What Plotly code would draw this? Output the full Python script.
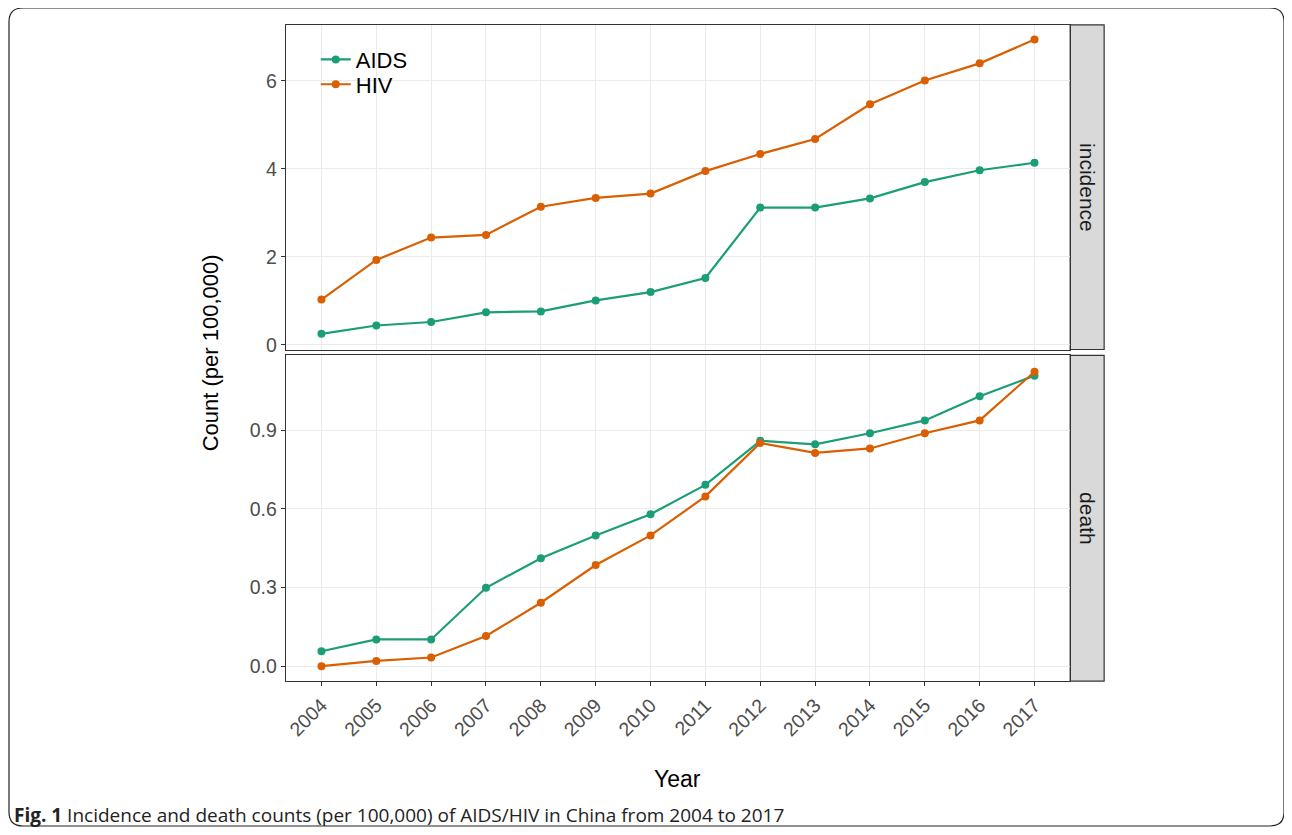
import plotly.graph_objects as go

years = list(range(2004, 2018))
incidence_aids = [0.25, 0.44, 0.52, 0.74, 0.76, 1.01, 1.20, 1.52, 3.12, 3.12, 3.33, 3.70, 3.97, 4.14]
incidence_hiv = [1.03, 1.93, 2.44, 2.50, 3.14, 3.34, 3.44, 3.95, 4.34, 4.68, 5.47, 6.01, 6.40, 6.94]
death_aids = [0.057, 0.102, 0.102, 0.299, 0.412, 0.499, 0.580, 0.692, 0.860, 0.847, 0.889, 0.938, 1.030, 1.109]
death_hiv = [0.000, 0.020, 0.033, 0.115, 0.242, 0.386, 0.499, 0.648, 0.852, 0.814, 0.831, 0.889, 0.938, 1.124]
series_names = ["AIDS", "HIV"]
colors = {"AIDS": "#1b9e77", "HIV": "#d95f02"}
panels = ["incidence", "death"]
caption_bold = "Fig. 1"
caption_text = "Incidence and death counts (per 100,000) of AIDS/HIV in China from 2004 to 2017"

# page body has an 8px margin; the figure is sized to fit in the window
OFF = 8
W, H = 1292 - OFF, 835 - OFF
def px_x(p): return (p - OFF) / W
def px_y(p): return 1 - (p - OFF) / H

fig = go.Figure()

data = {
    ("incidence", "AIDS"): incidence_aids,
    ("incidence", "HIV"): incidence_hiv,
    ("death", "AIDS"): death_aids,
    ("death", "HIV"): death_hiv,
}
legend_ids = {"AIDS": "legend", "HIV": "legend2"}

for pi, panel in enumerate(panels):
    ya = "y" if pi == 0 else "y2"
    for s in series_names:
        fig.add_trace(go.Scatter(
            x=years, y=data[(panel, s)], mode="lines+markers", name=s,
            xaxis="x" if pi == 0 else "x2", yaxis=ya,
            line=dict(color=colors[s], width=2.2),
            marker=dict(color=colors[s], size=8),
            showlegend=(pi == 0), legend=legend_ids[s],
        ))

font_family = "Liberation Sans, Arial, sans-serif"
grid = "#ebebeb"
border = "#333333"
tickfont = dict(family=font_family, size=19.5, color="#4d4d4d")

xdom = [px_x(285), px_x(1070)]
common_x = dict(range=[2003.35, 2017.65], domain=xdom, showgrid=True, gridcolor=grid,
                gridwidth=1, zeroline=False, showline=True, linecolor=border, linewidth=1.2,
                mirror=True, tickvals=years, ticks="outside", tickcolor=border)
common_y = dict(showgrid=True, gridcolor=grid, gridwidth=1, zeroline=False, showline=True,
                linecolor=border, linewidth=1.2, mirror=True, ticks="outside", ticklen=4,
                tickcolor=border, tickfont=tickfont)

legend_common = dict(xanchor="left", yanchor="middle",
                     font=dict(family=font_family, size=22, color="black"),
                     bgcolor="rgba(0,0,0,0)", itemwidth=30)

fig.update_layout(
    width=W, height=H,
    margin=dict(l=0, r=0, t=0, b=0),
    paper_bgcolor="white", plot_bgcolor="white",
    xaxis=dict(**common_x, anchor="y", showticklabels=False, ticklen=0),
    xaxis2=dict(**common_x, anchor="y2", matches="x", ticklen=4,
                tickangle=-45, tickfont=tickfont),
    yaxis=dict(**common_y, domain=[px_y(352), px_y(25)], range=[-0.106, 7.275],
               tickvals=[0, 2, 4, 6], anchor="x"),
    yaxis2=dict(**common_y, domain=[px_y(686), px_y(358)], range=[-0.057, 1.186],
                tickvals=[0, 0.3, 0.6, 0.9], ticktext=["0.0", "0.3", "0.6", "0.9"], anchor="x2"),
    legend=dict(x=px_x(315), y=px_y(60), **legend_common),
    legend2=dict(x=px_x(315), y=px_y(85), **legend_common),
    showlegend=True,
)

# strips
strips = [(25, 352, panels[0]), (358, 686, panels[1])]
for top, bot, label in strips:
    fig.add_shape(type="rect", xref="paper", yref="paper",
                  x0=px_x(1070), x1=px_x(1104), y0=px_y(bot), y1=px_y(top),
                  fillcolor="#d9d9d9", line=dict(color=border, width=1.2), layer="below")
    fig.add_annotation(xref="paper", yref="paper", x=px_x(1088), y=px_y((top + bot) / 2),
                       xanchor="center", yanchor="middle",
                       text=label, textangle=90, showarrow=False,
                       font=dict(family=font_family, size=21, color="#1a1a1a"))

# axis titles
fig.add_annotation(xref="paper", yref="paper", x=px_x(210), y=px_y(355),
                   xanchor="center", yanchor="middle",
                   text="Count (per 100,000)", textangle=-90, showarrow=False,
                   font=dict(family=font_family, size=22, color="black"))
fig.add_annotation(xref="paper", yref="paper", x=px_x(677), y=px_y(785),
                   xanchor="center", yanchor="middle",
                   text="Year", showarrow=False,
                   font=dict(family=font_family, size=23, color="black"))

# caption
fig.add_annotation(xref="paper", yref="paper", x=px_x(11), y=px_y(821),
                   xanchor="left", yanchor="middle",
                   text=f"<b>{caption_bold}</b> {caption_text}", showarrow=False,
                   font=dict(family="Open Sans, sans-serif", size=19, color="#222"))

# outer frame with rounded corners
r = 14
x0, y0, x1, y1 = 8, 8, 1284, 832
path = (f"M {px_x(x0 + r)},{px_y(y0)} L {px_x(x1 - r)},{px_y(y0)} "
        f"Q {px_x(x1)},{px_y(y0)} {px_x(x1)},{px_y(y0 + r)} "
        f"L {px_x(x1)},{px_y(y1 - r)} Q {px_x(x1)},{px_y(y1)} {px_x(x1 - r)},{px_y(y1)} "
        f"L {px_x(x0 + r)},{px_y(y1)} Q {px_x(x0)},{px_y(y1)} {px_x(x0)},{px_y(y1 - r)} "
        f"L {px_x(x0)},{px_y(y0 + r)} Q {px_x(x0)},{px_y(y0)} {px_x(x0 + r)},{px_y(y0)} Z")
fig.add_shape(type="path", path=path, xref="paper", yref="paper",
              line=dict(color="#222", width=1.2))

fig.write_html("out.html")
